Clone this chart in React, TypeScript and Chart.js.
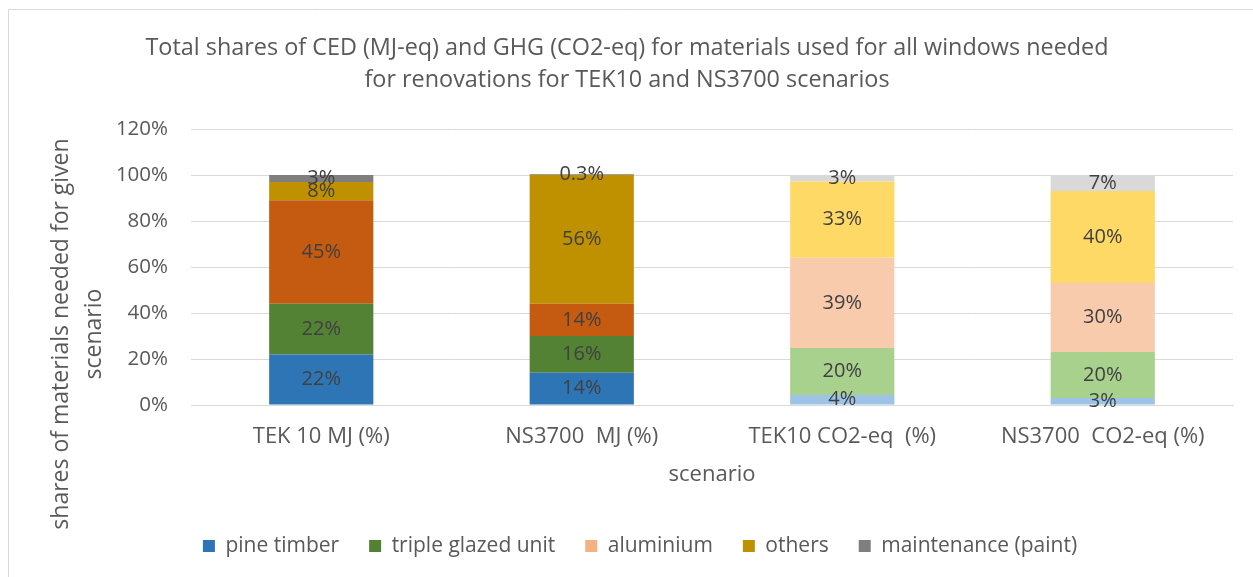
import { useEffect, useRef } from "react";
import { Chart, registerables } from "chart.js";

Chart.register(...registerables);

// ---------- data ----------
const categories = ["TEK 10 MJ (%)", "NS3700  MJ (%)", "TEK10 CO2-eq  (%)", "NS3700  CO2-eq (%)"];
const seriesNames = ["pine timber", "triple glazed unit", "aluminium", "others", "maintenance (paint)"];
const pineTimber = [22, 14, 4.4, 3];
const tripleGlazedUnit = [22, 16, 20.4, 20];
const aluminium = [45, 14, 39.2, 30];
const others = [8, 56, 33.2, 40];
const maintenance = [3, 0.3, 2.8, 7];
const yMin = 0;
const yMax = 120;
const yStep = 20;
const titleLines = [
  "Total shares of CED (MJ-eq) and GHG (CO2-eq) for materials used for all windows needed",
  "for renovations for TEK10 and NS3700 scenarios",
];
const yTitleLines = ["shares of materials needed for given", "scenario"];
const xTitle = "scenario";

// ---------- styles ----------
const FONT = '"Open Sans", "Noto Sans", sans-serif';
const TEXT = "#595959";
const LABEL = "#404040";
const GRID = "#D9D9D9";
// dark shades for MJ bars, light shades for CO2 bars
const barColors = [
  ["#2E75B6", "#2E75B6", "#9DC3E6", "#9DC3E6"],
  ["#548235", "#548235", "#A9D18E", "#A9D18E"],
  ["#C55A11", "#C55A11", "#F8CBAD", "#F8CBAD"],
  ["#BF9000", "#BF9000", "#FFD966", "#FFD966"],
  ["#7F7F7F", "#7F7F7F", "#D9D9D9", "#D9D9D9"],
];
const legendColors = ["#2E75B6", "#548235", "#F4B183", "#BF9000", "#7F7F7F"];

const seriesValues = [pineTimber, tripleGlazedUnit, aluminium, others, maintenance];

const fmtPct = (v: number) => (v < 1 ? `${v.toFixed(1)}%` : `${Math.round(v)}%`);

const decorPlugin = {
  id: "decor",
  beforeDraw(chart: any) {
    const ctx = chart.ctx;
    ctx.save();
    ctx.strokeStyle = GRID;
    ctx.lineWidth = 1;
    ctx.beginPath();
    ctx.moveTo(8.5, chart.height);
    ctx.lineTo(8.5, 9.5);
    ctx.lineTo(chart.width, 9.5);
    ctx.stroke();
    ctx.restore();
  },
  afterDraw(chart: any) {
    const ctx = chart.ctx;
    ctx.save();
    ctx.fillStyle = TEXT;
    ctx.textAlign = "center";
    ctx.textBaseline = "middle";
    ctx.font = `23.4px ${FONT}`;
    ctx.fillText(titleLines[0], 627, 48);
    ctx.fillText(titleLines[1], 627, 80);
    // y axis title
    ctx.font = `23px ${FONT}`;
    const xs = [61, 94];
    yTitleLines.forEach((t, i) => {
      ctx.save();
      ctx.translate(xs[i], 334);
      ctx.rotate(-Math.PI / 2);
      ctx.fillText(t, 0, 0);
      ctx.restore();
    });
    ctx.restore();
  },
};

const segLabelPlugin = {
  id: "segLabels",
  afterDatasetsDraw(chart: any) {
    const ctx = chart.ctx;
    ctx.save();
    ctx.font = `20px ${FONT}`;
    ctx.fillStyle = LABEL;
    ctx.textAlign = "center";
    ctx.textBaseline = "middle";
    chart.data.datasets.forEach((ds: any, di: number) => {
      const meta = chart.getDatasetMeta(di);
      meta.data.forEach((el: any, i: number) => {
        const v = ds.data[i];
        const { x, y, base } = el.getProps(["x", "y", "base"], true);
        ctx.fillText(fmtPct(v), x, (y + base) / 2);
      });
    });
    ctx.restore();
  },
};

export default function App() {
  const ref = useRef<HTMLCanvasElement | null>(null);
  useEffect(() => {
    if (!ref.current) return;
    const chart = new Chart(ref.current, {
      type: "bar",
      data: {
        labels: categories,
        datasets: seriesNames.map((name, i) => ({
          label: name,
          data: seriesValues[i],
          backgroundColor: barColors[i],
          borderWidth: 0,
          barPercentage: 0.4,
          categoryPercentage: 1,
          yAxisID: "y",
        })),
      },
      options: {
        animation: false,
        responsive: false,
        maintainAspectRatio: false,
        layout: { padding: { left: 27, right: 0, top: 129, bottom: 10.5 } },
        scales: {
          x: {
            stacked: true,
            grid: { display: false },
            border: { display: true, color: GRID },
            ticks: { color: TEXT, font: { family: FONT, size: 22 }, padding: 11, maxRotation: 0, autoSkip: false },
            title: { display: true, text: xTitle, color: TEXT, font: { family: FONT, size: 22 }, padding: { top: 0, bottom: 17.3 } },
            afterFit: (s: any) => { s.height = 100.5; },
          },
          y: {
            stacked: true,
            position: "left",
            min: yMin,
            max: yMax,
            grid: { color: GRID, drawTicks: false },
            border: { display: false },
            ticks: {
              stepSize: yStep,
              color: TEXT,
              font: { family: FONT, size: 20.5 },
              padding: 23,
              callback: (v: any) => `${v}%`,
            },
            afterFit: (s: any) => { s.width = 164; },
          },
          yRightSpace: {
            position: "right",
            grid: { display: false },
            border: { display: false },
            ticks: { display: false },
            afterFit: (s: any) => { s.width = 20; },
          },
        },
        plugins: {
          title: { display: false },
          tooltip: { enabled: false },
          legend: {
            position: "bottom",
            align: "center",
            labels: {
              boxWidth: 12,
              boxHeight: 12,
              padding: 30,
              color: TEXT,
              font: { family: FONT, size: 21 },
              generateLabels: () =>
                seriesNames.map((n, i) => ({
                  text: n,
                  fillStyle: legendColors[i],
                  strokeStyle: legendColors[i],
                  lineWidth: 0,
                  hidden: false,
                  datasetIndex: i,
                  fontColor: TEXT,
                })),
            },
          },
        },
      },
      plugins: [decorPlugin, segLabelPlugin],
    });
    return () => chart.destroy();
  }, []);
  return (
    <div style={{ position: "fixed", left: 0, top: 0, width: 1253, height: 577, background: "#fff" }}>
      <canvas ref={ref} width={1253} height={577} style={{ display: "block", width: 1253, height: 577 }} />
    </div>
  );
}
